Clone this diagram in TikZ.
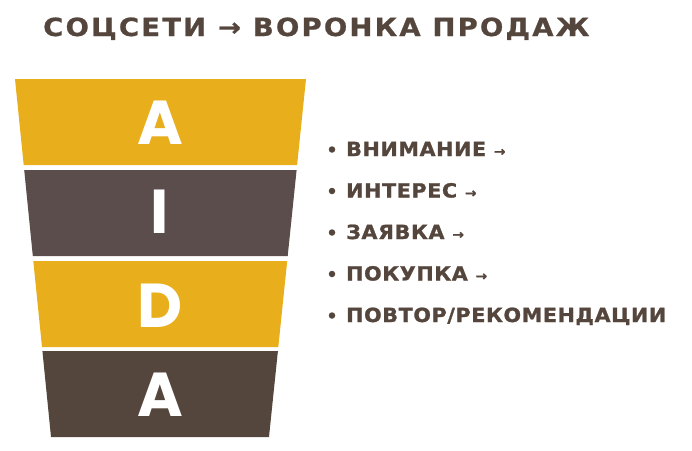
\documentclass[tikz,border=0pt]{standalone}
\usepackage{fontspec}
\usepackage{graphicx}
\setmainfont{DejaVu Sans}
\newfontfamily\titlefont{DejaVu Sans}[LetterSpace=8, BoldFeatures={FakeBold=0.8}]
\newfontfamily\listfont{DejaVu Sans}[LetterSpace=3, BoldFeatures={FakeBold=1.2}]
\newfontfamily\letterfont{Poppins}
\definecolor{funnelyellow}{HTML}{E8AE1B}
\definecolor{funnelgray}{HTML}{5A4D4B}
\definecolor{funnelbrown}{HTML}{54463D}
\definecolor{textbrown}{HTML}{55463D}
\tikzset{
  bigletter/.style={text=white, font=\letterfont\bfseries\fontsize{62}{62}\selectfont, anchor=base, inner sep=0pt},
  item/.style={text=textbrown, font=\listfont\bfseries\fontsize{19.5}{19.5}\selectfont, anchor=base west, inner sep=0pt},
  bulletdot/.style={circle, fill=textbrown, inner sep=0pt, minimum size=6.5pt}
}
\newcommand{\itm}[1]{\scalebox{1.06}[1]{#1}}
\newcommand{\arr}{\ {\fontsize{13}{13}\selectfont →}}
\begin{document}
\begin{tikzpicture}[x=1pt,y=-1pt]
\useasboundingbox (0,0) rectangle (692,450);
% funnel bands
\fill[funnelyellow] (15,79) -- (306,79) -- (297.1,165) -- (23.7,165) -- cycle;
\fill[funnelgray] (24.2,170) -- (296.6,170) -- (287.7,256) -- (32.8,256) -- cycle;
\fill[funnelyellow] (33.3,261) -- (287.2,261) -- (278.3,347) -- (42,347) -- cycle;
\fill[funnelbrown] (42.4,351) -- (277.9,351) -- (269,437) -- (51,437) -- cycle;
% letters
\node[bigletter] (la1) at (160,144) {A};
\node[bigletter] (li) at (160,233) {I};
\node[bigletter] (ld) at (160,327) {D};
\node[bigletter] (la2) at (160,416) {A};
% title
\node[text=textbrown, font=\titlefont\bfseries\fontsize{25}{25}\selectfont, anchor=base west, inner sep=0pt] (title) at (43,36) {\scalebox{1.10}[1]{СОЦСЕТИ → ВОРОНКА ПРОДАЖ}};
% list
\node[item] (i1) at (346,156) {\itm{ВНИМАНИЕ\arr}};
\node[item] (i2) at (346,197.5) {\itm{ИНТЕРЕС\arr}};
\node[item] (i3) at (346,239) {\itm{ЗАЯВКА\arr}};
\node[item] (i4) at (346,280.5) {\itm{ПОКУПКА\arr}};
\node[item] (i5) at (346,322) {\itm{ПОВТОР/РЕКОМЕНДАЦИИ}};
\node[bulletdot] (b1) at (332,149.5) {};
\node[bulletdot] (b2) at (332,191) {};
\node[bulletdot] (b3) at (332,232.5) {};
\node[bulletdot] (b4) at (332,274) {};
\node[bulletdot] (b5) at (332,315.5) {};
\end{tikzpicture}
\end{document}
